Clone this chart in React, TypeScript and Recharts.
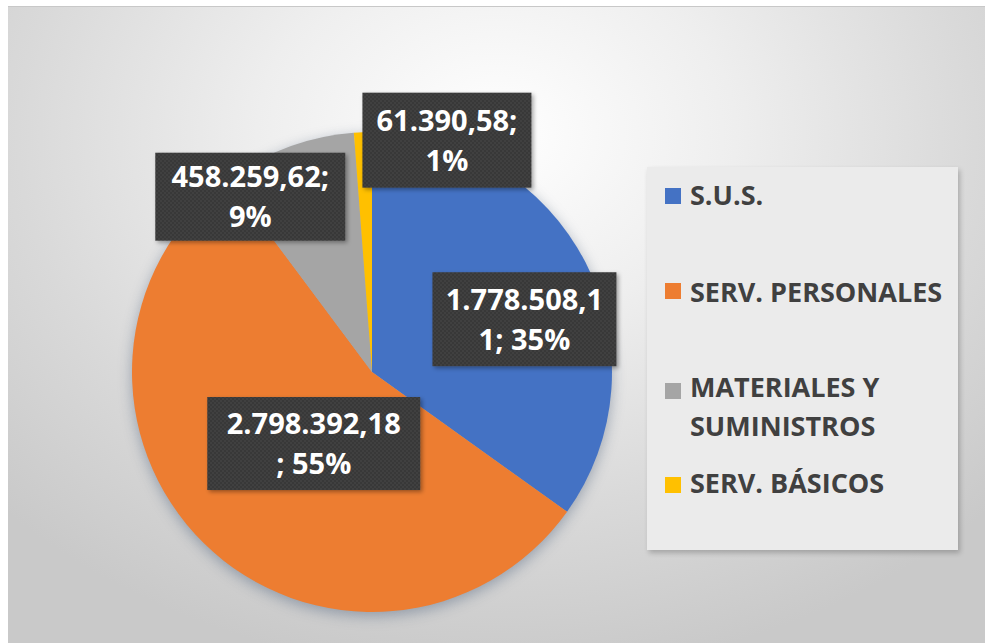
import React from 'react';
import { PieChart, Pie, Cell, Legend } from 'recharts';

const categories = ['S.U.S.', 'SERV. PERSONALES', 'MATERIALES Y SUMINISTROS', 'SERV. BÁSICOS'];
const values = [1778508.11, 2798392.18, 458259.62, 61390.58];
const colors = ['#4472C4', '#ED7D31', '#A5A5A5', '#FFC000'];
const legendLines = [['S.U.S.'], ['SERV. PERSONALES'], ['MATERIALES Y', 'SUMINISTROS'], ['SERV. BÁSICOS']];
const labelBreaks = [11, 12, 11, 10];

const data = categories.map((name, i) => ({ name, value: values[i] }));
const total = values.reduce((a, b) => a + b, 0);

// label box layout (style only)
const labelLayout = [
  { dist: 0.7, dx: 3, dy: 24, w: 184, h: 94 },
  { dist: 0.4, dx: 9, dy: 3, w: 213, h: 93 },
  { dist: 0.9, dx: -46, dy: 27, w: 190, h: 88 },
  { dist: 1.0, dx: 84, dy: 8, w: 169, h: 95 },
];

// legend layout (style only), relative to legend box
const legendLayout = [
  { marker: 21, baselines: [38] },
  { marker: 116, baselines: [135] },
  { marker: 216, baselines: [230, 269] },
  { marker: 310, baselines: [326] },
];

const FONT = '"Open Sans", "Noto Sans", sans-serif';
const RADIAN = Math.PI / 180;

function fmt(v: number) {
  const [i, d] = v.toFixed(2).split('.');
  return i.replace(/\B(?=(\d{3})+(?!\d))/g, '.') + ',' + d;
}

function labelText(i: number) {
  const pct = Math.round((values[i] / total) * 100);
  const full = `${fmt(values[i])}; ${pct}%`;
  const b = labelBreaks[i];
  return [full.slice(0, b), full.slice(b).trim()];
}

const renderLabel = (props: any) => {
  const { cx, cy, midAngle, outerRadius, index } = props;
  const L = labelLayout[index];
  const r = outerRadius * L.dist;
  const x = cx + r * Math.cos(-midAngle * RADIAN) + L.dx;
  const y = cy + r * Math.sin(-midAngle * RADIAN) + L.dy;
  const lines = labelText(index);
  const fs = 29;
  const cap = fs * 0.714;
  const spacing = 40;
  return (
    <g key={`lbl-${index}`}>
      {index === 0 && (
        <defs>
          <pattern id="dotpat" width="4" height="4" patternUnits="userSpaceOnUse">
            <rect width="4" height="4" fill="#393939" />
            <circle cx="1" cy="1" r="0.8" fill="#4b4b4b" />
            <circle cx="3" cy="3" r="0.8" fill="#4b4b4b" />
          </pattern>
          <filter id="boxshadow" x="-10%" y="-10%" width="130%" height="130%">
            <feDropShadow dx="2" dy="2" stdDeviation="2" floodColor="#000" floodOpacity="0.35" />
          </filter>
        </defs>
      )}
      <rect x={x - L.w / 2} y={y - L.h / 2} width={L.w} height={L.h} fill="url(#dotpat)" filter="url(#boxshadow)" />
      {lines.map((t, k) => (
        <text
          key={k}
          x={x}
          y={y + (k === 0 ? -spacing / 2 : spacing / 2) + cap / 2}
          textAnchor="middle"
          fill="#ffffff"
          fontFamily={FONT}
          fontWeight={700}
          fontSize={fs}
        >
          {t}
        </text>
      ))}
    </g>
  );
};

const renderLegend = () => (
  <div
    style={{
      width: 311,
      height: 383,
      background: '#ebebeb',
      boxShadow: '2px 3px 5px rgba(0,0,0,0.22)',
    }}
  >
    <svg width={311} height={383}>
      {categories.map((c, i) => (
        <g key={c}>
          <rect x={18} y={legendLayout[i].marker} width={16} height={16} fill={colors[i]} />
          {legendLines[i].map((t, k) => (
            <text
              key={k}
              x={43}
              y={legendLayout[i].baselines[k]}
              fill="#404040"
              fontFamily={FONT}
              fontWeight={700}
              fontSize={27}
            >
              {t}
            </text>
          ))}
        </g>
      ))}
    </svg>
  </div>
);

export default function App() {
  return (
    <div style={{ position: 'absolute', left: 0, top: 0, width: 985, height: 643, background: '#ffffff', overflow: 'hidden' }}>
      <style>{`.recharts-pie { filter: drop-shadow(0px 4px 7px rgba(70,90,120,0.45)); }`}</style>
      <div
        style={{
          position: 'absolute',
          left: 8,
          top: 6,
          width: 977,
          height: 637,
          background: 'radial-gradient(ellipse 70% 85% at 50% 20%, #ffffff 0%, #eeeeee 35%, #d9d9d9 70%, #c9c9c9 100%)',
          borderTop: '1px solid #c8c8c8',
        }}
      />
      <div style={{ position: 'absolute', left: 0, top: 0 }}>
        <PieChart width={985} height={643} margin={{ top: 0, right: 0, bottom: 0, left: 0 }}>
          <Pie
            data={data}
            dataKey="value"
            nameKey="name"
            cx={372}
            cy={372}
            outerRadius={240}
            startAngle={90}
            endAngle={-270}
            stroke="none"
            label={renderLabel}
            labelLine={false}
            isAnimationActive={false}
          >
            {data.map((d, i) => (
              <Cell key={d.name} fill={colors[i]} />
            ))}
          </Pie>
          <Legend
            content={renderLegend}
            layout="vertical"
            align="right"
            verticalAlign="middle"
            wrapperStyle={{ left: 647, top: 167, right: 'auto', bottom: 'auto', width: 311, height: 383 }}
          />
        </PieChart>
      </div>
    </div>
  );
}
